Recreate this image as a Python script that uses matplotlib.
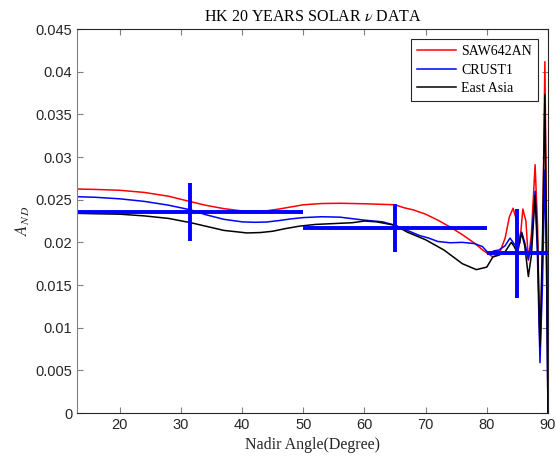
import matplotlib
matplotlib.use("Agg")
import matplotlib.pyplot as plt
from matplotlib.ticker import FormatStrFormatter, MultipleLocator

plt.rcParams['mathtext.fontset'] = 'stix'
plt.rcParams['font.family'] = ['Liberation Sans', 'DejaVu Sans']

# asymmetry curves vs nadir angle for three earth models
saw_x = [13, 16, 20, 24, 28, 31.6, 34, 37, 40, 42, 44, 46, 48, 50, 53, 56, 60, 63, 65,
         66.5, 68, 70, 72, 74, 76, 78, 79.5, 81, 82, 83, 83.7, 84.3, 84.9, 85.4, 85.9,
         86.4, 86.8, 87.3, 87.9, 88.3, 88.7, 89.1, 89.5, 89.8, 90]
saw_y = [0.02625, 0.02620, 0.02610, 0.02585, 0.02540, 0.02476, 0.02435, 0.02395, 0.02368,
         0.02362, 0.02370, 0.02390, 0.02415, 0.02440, 0.02455, 0.02458, 0.02452, 0.02445,
         0.02440, 0.02405, 0.02380, 0.02330, 0.02260, 0.02180, 0.02090, 0.01990, 0.01900,
         0.01830, 0.01860, 0.02050, 0.02300, 0.02400, 0.02250, 0.01990, 0.02390, 0.02250,
         0.01790, 0.02100, 0.02910, 0.02200, 0.00700, 0.01800, 0.04117, 0.02000, 0.0]

crust_x = [13, 16, 20, 24, 28, 31.6, 34, 37, 40, 42, 44, 46, 48, 50, 53, 56, 60, 63, 65,
           67, 69, 70.5, 72, 74, 76, 78, 79.3, 80.3, 81.2, 82, 83, 83.8, 84.6, 85.2, 85.7,
           86.2, 86.8, 87.3, 87.9, 88.3, 88.7, 89.1, 89.5, 89.8, 90]
crust_y = [0.02535, 0.02528, 0.02510, 0.02480, 0.02435, 0.02380, 0.02325, 0.02270, 0.02240,
           0.02235, 0.02238, 0.02255, 0.02275, 0.02290, 0.02300, 0.02295, 0.02260, 0.02240,
           0.02200, 0.02140, 0.02080, 0.02050, 0.02010, 0.01995, 0.02000, 0.01985, 0.01950,
           0.01870, 0.01900, 0.01910, 0.01960, 0.02050, 0.01970, 0.02000, 0.02120, 0.02000,
           0.01800, 0.02000, 0.02600, 0.01800, 0.00590, 0.01500, 0.02850, 0.01500, 0.0]

asia_x = [13, 16, 20, 24, 28, 31.6, 34, 37, 40.8, 43, 45, 47, 49.4, 52, 55, 58, 60, 62, 65,
          67, 70, 73, 76, 78.3, 80, 81, 82, 83, 84, 84.5, 85, 85.7, 86.2, 86.8, 87.3, 87.9,
          88.3, 88.7, 89.1, 89.5, 89.8, 90]
asia_y = [0.0234, 0.02335, 0.0233, 0.0231, 0.0228, 0.0223, 0.0219, 0.0214, 0.0211, 0.02115,
          0.0213, 0.0216, 0.0219, 0.0221, 0.0222, 0.0223, 0.0225, 0.0224, 0.0220, 0.0212,
          0.0203, 0.0191, 0.0175, 0.0168, 0.0171, 0.0183, 0.0185, 0.0189, 0.0200, 0.0195,
          0.0187, 0.0211, 0.0196, 0.0160, 0.0185, 0.0255, 0.0200, 0.0078, 0.0200, 0.0373,
          0.0180, 0.0]

# binned HK data: bin edges, measured asymmetry and its error
bin_edges = [13, 50, 80, 90]
bin_val = [0.0235, 0.0217, 0.0187]
bin_err = [0.0034, 0.0028, 0.0052]

bin_center = [(bin_edges[i] + bin_edges[i + 1]) / 2 for i in range(3)]
bin_half = [(bin_edges[i + 1] - bin_edges[i]) / 2 for i in range(3)]

fig = plt.figure(figsize=(5.56, 4.59), dpi=100)
ax = fig.add_axes([0.1385, 0.1002, 0.847, 0.8366])

ax.plot(saw_x, saw_y, color='red', lw=1.1, label='SAW642AN')
ax.plot(crust_x, crust_y, color='blue', lw=1.1, label='CRUST1')
ax.plot(asia_x, asia_y, color='black', lw=1.1, label='East Asia')
ax.errorbar(bin_center, bin_val, xerr=bin_half, yerr=bin_err, fmt='none',
            ecolor='blue', elinewidth=2.8, capsize=0)

ax.set_xlim(13, 90)
ax.set_ylim(0, 0.045)
ax.xaxis.set_major_locator(MultipleLocator(10))
ax.yaxis.set_major_locator(MultipleLocator(0.005))
ax.yaxis.set_major_formatter(FormatStrFormatter('%g'))
ax.tick_params(direction='in', top=True, right=True, length=4, width=0.8,
               color='#808080', labelcolor='#262626', labelsize=10.5)
ax.spines['left'].set_color('#808080')
for s in ['top', 'right', 'bottom']:
    ax.spines[s].set_color('#262626')

serif = ['Liberation Serif', 'DejaVu Serif']
ax.set_title(r'HK 20 YEARS SOLAR $\nu$ DATA', family=serif, fontsize=11.5, pad=6)
ax.set_xlabel('Nadir Angle(Degree)', family=serif, fontsize=11.5, color='#262626')
ax.set_ylabel(r'$A_{N\,D}$', fontsize=12, color='#262626', labelpad=2)

leg = ax.legend(loc='upper right', prop={'family': serif, 'size': 10},
                fancybox=False, edgecolor='#262626', framealpha=1,
                borderaxespad=0.75, handlelength=2.8, labelspacing=0.4,
                borderpad=0.4, handletextpad=0.4)
leg.get_frame().set_linewidth(0.8)

fig.savefig('out.png', dpi=100)
